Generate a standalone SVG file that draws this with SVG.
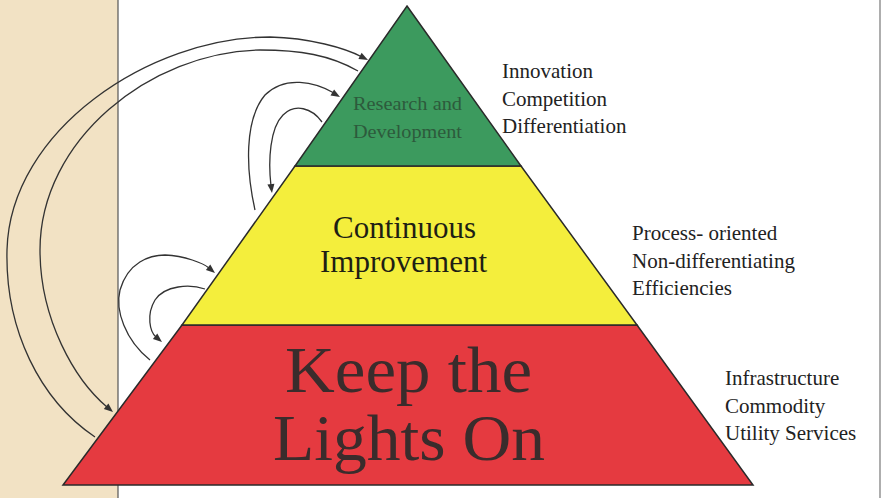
<svg xmlns="http://www.w3.org/2000/svg" width="883" height="498" viewBox="0 0 883 498" font-family="Liberation Serif, Times New Roman, serif">
<style>
.edge{stroke:#2a2a2a;stroke-width:1.5}
.conn{fill:none;stroke:#333;stroke-width:1.3}
.head{fill:#333}
.side{font-size:21px;fill:#222}
.rd{font-size:18px;fill:#2d5a3c}
.ci{font-size:31px;fill:#1e1e14}
.kl{font-size:66px;fill:#3a2c2c}
</style>
<rect x="0" y="0" width="883" height="498" fill="#ffffff"/>
<rect x="0" y="0" width="118" height="498" fill="#f2e2c4"/>
<line x1="118" y1="0" x2="118" y2="498" stroke="#555" stroke-width="1.2"/>
<line x1="880" y1="0" x2="880" y2="498" stroke="#777" stroke-width="1.2"/>

<g id="layer-red">
<polygon class="edge" points="182,325 637,325 753,485 63,485" fill="#e53a40"/>
<text class="kl" font-family="Times New Roman, Liberation Serif, serif" x="285" y="392" textLength="247" lengthAdjust="spacingAndGlyphs">Keep the</text>
<text class="kl" font-family="Times New Roman, Liberation Serif, serif" x="273" y="460" textLength="272" lengthAdjust="spacingAndGlyphs">Lights On</text>
</g>
<g id="layer-yellow">
<polygon class="edge" points="295,166 521,166 637,325 182,325" fill="#f4ee3c"/>
<text class="ci" font-family="Times New Roman, Liberation Serif, serif" x="333" y="238">Continuous</text>
<text class="ci" font-family="Times New Roman, Liberation Serif, serif" x="320" y="272">Improvement</text>
</g>
<g id="layer-green">
<polygon class="edge" points="407,6 521,166 295,166" fill="#3c9a5e"/>
<text class="rd" font-family="Times New Roman, Liberation Serif, serif" x="353" y="110" textLength="109" lengthAdjust="spacingAndGlyphs">Research and</text>
<text class="rd" font-family="Times New Roman, Liberation Serif, serif" x="353" y="138" textLength="109" lengthAdjust="spacingAndGlyphs">Development</text>
</g>

<g id="label-top">
<text class="side" font-family="Times New Roman, Liberation Serif, serif" x="502" y="78">Innovation</text>
<text class="side" font-family="Times New Roman, Liberation Serif, serif" x="502" y="106">Competition</text>
<text class="side" font-family="Times New Roman, Liberation Serif, serif" x="502" y="133">Differentiation</text>
</g>
<g id="label-mid">
<text class="side" font-family="Times New Roman, Liberation Serif, serif" x="632" y="240">Process- oriented</text>
<text class="side" font-family="Times New Roman, Liberation Serif, serif" x="632" y="268">Non-differentiating</text>
<text class="side" font-family="Times New Roman, Liberation Serif, serif" x="632" y="295">Efficiencies</text>
</g>
<g id="label-bottom">
<text class="side" font-family="Times New Roman, Liberation Serif, serif" x="725" y="385">Infrastructure</text>
<text class="side" font-family="Times New Roman, Liberation Serif, serif" x="725" y="413">Commodity</text>
<text class="side" font-family="Times New Roman, Liberation Serif, serif" x="725" y="440">Utility Services</text>
</g>

<g id="connectors">
<path class="conn" d="M95,437 C40,400 5,330 7,250 C10,130 150,37 270,37 C310,38 345,48 362,57"/>
<polygon class="head" points="368,60 358.4,58.9 361.6,52.7"/>
<path class="conn" d="M358,71 C330,55 300,50 260,50 C150,52 40,140 40,250 C40,320 75,380 107,407"/>
<polygon class="head" points="113,412 103.8,408.9 108.4,403.5"/>
<path class="conn" d="M255,210 C246,170 244,120 265,95 C285,75 315,82 334,93"/>
<polygon class="head" points="340,97 330.5,95.4 334.1,89.4"/>
<path class="conn" d="M322,122 C312,108 295,103 283,115 C270,128 268,160 271,186"/>
<polygon class="head" points="272,193 267.4,184.5 274.4,183.7"/>
<path class="conn" d="M150,360 C125,340 115,310 120,290 C128,262 150,255 165,255 C185,256 203,263 209,268"/>
<polygon class="head" points="215,273 205.9,269.9 210.3,264.5"/>
<path class="conn" d="M205,289 C190,284 165,285 155,300 C146,315 150,332 156,337"/>
<polygon class="head" points="162,342 152.9,338.9 157.3,333.5"/>
</g>
</svg>
